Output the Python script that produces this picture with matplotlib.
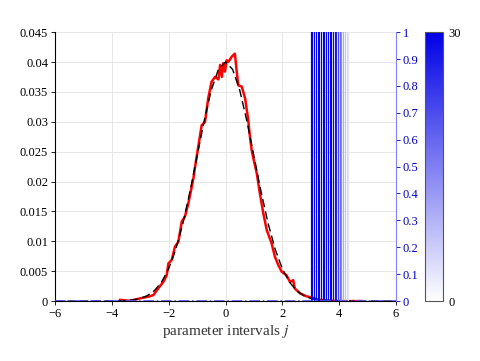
import matplotlib
matplotlib.use('Agg')
import matplotlib.pyplot as plt
from matplotlib.colors import LinearSegmentedColormap, Normalize
from matplotlib.colorbar import ColorbarBase

plt.rcParams['font.family'] = 'Liberation Serif'
plt.rcParams['mathtext.fontset'] = 'stix'
plt.rcParams['font.size'] = 9

# sampled histogram (red)
hist_x = [-3.71, -3.5, -3.36, -3.01, -2.66, -2.54, -2.37, -2.19, -2.07, -2.01,
          -1.89, -1.78, -1.66, -1.54, -1.43, -1.31, -1.13, -1.07, -0.96, -0.84,
          -0.72, -0.61, -0.49, -0.37, -0.25, -0.19, -0.13, -0.08, -0.02, 0.04,
          0.10, 0.22, 0.33, 0.39, 0.45, 0.57, 0.69, 0.80, 0.86, 0.92,
          0.98, 1.10, 1.21, 1.33, 1.45, 1.62, 1.74, 1.86, 1.98, 2.15,
          2.27, 2.38, 2.44, 2.62, 2.85, 3.03, 3.3, 3.6, 4.0, 4.4, 4.79]
hist_y = [0.0002, 0.0001, 0.00005, 0.00045, 0.0008, 0.001, 0.0021, 0.0032, 0.0043, 0.0063,
          0.0069, 0.0091, 0.0099, 0.0133, 0.0141, 0.0163, 0.0205, 0.0225, 0.0258, 0.0294,
          0.0300, 0.0339, 0.0367, 0.0375, 0.0371, 0.0395, 0.0375, 0.0398, 0.0384, 0.0403,
          0.0400, 0.0409, 0.0414, 0.0386, 0.0361, 0.0359, 0.0339, 0.0303, 0.0275, 0.0253,
          0.0239, 0.0214, 0.0180, 0.0147, 0.0119, 0.0097, 0.0074, 0.0060, 0.0049, 0.0043,
          0.0032, 0.0035, 0.0021, 0.0013, 0.0008, 0.0006, 0.0002, 0.0001, 0.0, 0.0, 0.0]

# reference density (black dashed)
ref_x = [-6, -4.0, -3.75, -3.5, -3.25, -3.0, -2.75, -2.5, -2.25, -2.0, -1.75, -1.5, -1.25,
         -1.0, -0.75, -0.5, -0.25, 0.0, 0.25, 0.5, 0.75, 1.0, 1.25, 1.5, 1.75,
         2.0, 2.25, 2.5, 2.75, 3.0, 3.25, 3.5, 3.75, 4.0, 6]
ref_y = [0.0, 0.00001, 0.00003, 0.00009, 0.0002, 0.00044, 0.00091, 0.00176, 0.00318, 0.00541,
         0.00864, 0.01298, 0.01832, 0.02426, 0.03017, 0.0353, 0.03877, 0.0400, 0.03877,
         0.0353, 0.03017, 0.02426, 0.01832, 0.01298, 0.00864, 0.00541, 0.00318, 0.00176,
         0.00091, 0.00044, 0.0002, 0.00009, 0.00003, 0.00001, 0.0]

# flat line on right axis (blue dash-dot)
flat_x = [-6, 6]
flat_y = [0, 0]

# interval markers and their counts
mark_x = [3.00, 3.06, 3.12, 3.18, 3.24, 3.30, 3.36, 3.42, 3.48, 3.54, 3.60, 3.66,
          3.72, 3.78, 3.84, 3.90, 3.96, 4.02, 4.08, 4.14, 4.20, 4.26, 4.32]
mark_n = [30, 30, 30, 30, 30, 30, 30, 30, 30, 30, 30, 30,
          30, 29, 28, 26, 22, 18, 14, 10, 7, 5, 3]

cmap = LinearSegmentedColormap.from_list('wb', ['#ffffff', '#0000e6'])
norm = Normalize(0, 30)

fig = plt.figure(figsize=(4.8, 3.61), dpi=100)
ax = fig.add_axes([0.1146, 0.166, 0.7104, 0.745])
ax2 = ax.twinx()

ax.plot(ref_x, ref_y, color='black', lw=1.0, ls=(0, (6, 3)), zorder=3)
ax.plot(hist_x, hist_y, color='red', lw=1.8, zorder=2)

for xm, n in zip(mark_x, mark_n):
    ax2.axvline(xm, 0, 1, color=cmap(norm(n)), lw=0.85, zorder=1)
ax2.plot(flat_x, flat_y, color='#5050ff', lw=1.2, ls='-.', zorder=2)

ax.set_xlim(-6, 6)
ax.set_ylim(0, 0.045)
ax.set_xticks([-6, -4, -2, 0, 2, 4, 6])
ax.set_yticks([0, 0.005, 0.01, 0.015, 0.02, 0.025, 0.03, 0.035, 0.04, 0.045])
ax.set_yticklabels(['0', '0.005', '0.01', '0.015', '0.02', '0.025', '0.03', '0.035', '0.04', '0.045'])
ax.grid(True, color='#e3e3e3', lw=0.6)
ax.set_axisbelow(True)
ax.tick_params(direction='out', length=3, width=0.6, pad=2)
ax.set_xlabel('parameter intervals $j$', color='#333333', fontsize=11, labelpad=2)

ax2.set_ylim(0, 1)
ax2.set_yticks([0, 0.1, 0.2, 0.3, 0.4, 0.5, 0.6, 0.7, 0.8, 0.9, 1])
ax2.set_yticklabels(['0', '0.1', '0.2', '0.3', '0.4', '0.5', '0.6', '0.7', '0.8', '0.9', '1'])
ax2.tick_params(direction='out', length=3, width=0.6, pad=2, colors='#0000cc')

for a in (ax, ax2):
    a.spines['top'].set_visible(False)
ax.spines['right'].set_visible(False)
ax2.spines['left'].set_visible(False)
ax2.spines['bottom'].set_visible(False)
ax2.spines['right'].set_color('#8080ff')
ax.spines['left'].set_linewidth(0.8)
ax.spines['bottom'].set_linewidth(0.8)

cax = fig.add_axes([0.885, 0.166, 0.038, 0.745])
cb = ColorbarBase(cax, cmap=cmap, norm=norm, ticks=[0, 30])
cb.outline.set_edgecolor('#555555')
cb.outline.set_linewidth(0.8)
cax.tick_params(length=0, pad=4)

fig.savefig('out.png', dpi=100)
